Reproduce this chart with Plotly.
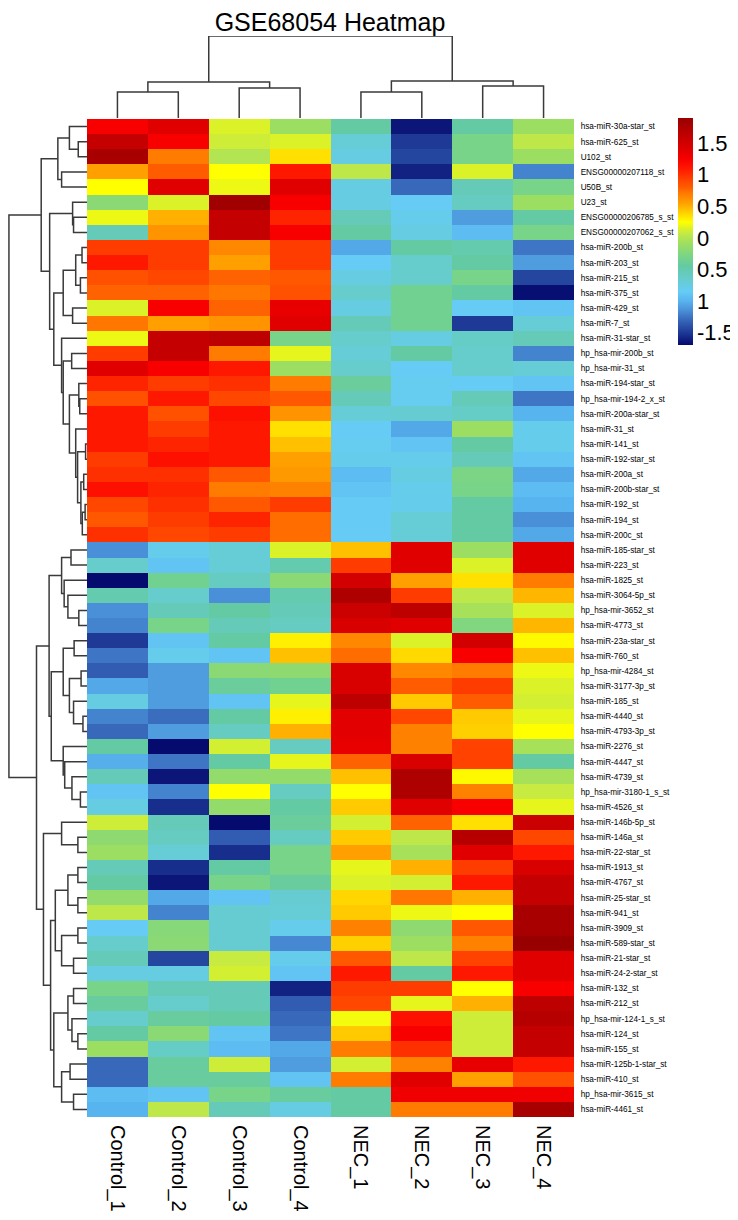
import plotly.graph_objects as go

# the page body adds an 8 px margin, so the figure is a little smaller and
# every pixel position below is given in screen pixels and shifted by OFF
OFF = 8
W, H = 738 - OFF, 1220 - OFF

samples = ["Control_1", "Control_2", "Control_3", "Control_4",
           "NEC_1", "NEC_2", "NEC_3", "NEC_4"]

mirnas = [
    "hsa-miR-30a-star_st", "hsa-miR-625_st", "U102_st", "ENSG00000207118_st",
    "U50B_st", "U23_st", "ENSG00000206785_s_st", "ENSG00000207062_s_st",
    "hsa-miR-200b_st", "hsa-miR-203_st", "hsa-miR-215_st", "hsa-miR-375_st",
    "hsa-miR-429_st", "hsa-miR-7_st", "hsa-miR-31-star_st", "hp_hsa-mir-200b_st",
    "hp_hsa-mir-31_st", "hsa-miR-194-star_st", "hp_hsa-mir-194-2_x_st",
    "hsa-miR-200a-star_st", "hsa-miR-31_st", "hsa-miR-141_st",
    "hsa-miR-192-star_st", "hsa-miR-200a_st", "hsa-miR-200b-star_st",
    "hsa-miR-192_st", "hsa-miR-194_st", "hsa-miR-200c_st",
    "hsa-miR-185-star_st", "hsa-miR-223_st", "hsa-miR-1825_st",
    "hsa-miR-3064-5p_st", "hp_hsa-mir-3652_st", "hsa-miR-4773_st",
    "hsa-miR-23a-star_st", "hsa-miR-760_st", "hp_hsa-mir-4284_st",
    "hsa-miR-3177-3p_st", "hsa-miR-185_st", "hsa-miR-4440_st",
    "hsa-miR-4793-3p_st", "hsa-miR-2276_st", "hsa-miR-4447_st",
    "hsa-miR-4739_st", "hp_hsa-mir-3180-1_s_st", "hsa-miR-4526_st",
    "hsa-miR-146b-5p_st", "hsa-miR-146a_st", "hsa-miR-22-star_st",
    "hsa-miR-1913_st", "hsa-miR-4767_st", "hsa-miR-25-star_st",
    "hsa-miR-941_st", "hsa-miR-3909_st", "hsa-miR-589-star_st",
    "hsa-miR-21-star_st", "hsa-miR-24-2-star_st", "hsa-miR-132_st",
    "hsa-miR-212_st", "hp_hsa-mir-124-1_s_st", "hsa-miR-124_st",
    "hsa-miR-155_st", "hsa-miR-125b-1-star_st", "hsa-miR-410_st",
    "hp_hsa-mir-3615_st", "hsa-miR-4461_st",
]

# row-scaled expression, one list per sample
control_1 = [1.25, 1.6, 1.8, 0.55, 0.25, -0.2, 0.2, -0.55, 0.95, 1.1, 0.85, 0.78,
             0.15, 0.72, 0.2, 0.95, 1.4, 1.05, 0.85, 1.1, 1.1, 1.1, 0.95, 1.0,
             1.15, 0.9, 0.82, 1.0, -1.15, -0.65, -1.7, -0.5, -1.15, -1.2, -1.5,
             -1.25, -1.35, -1.05, -0.75, -1.2, -1.3, -0.45, -1.02, -0.55, -0.9,
             -0.75, 0.1, -0.18, -0.1, -0.55, -0.45, -0.15, 0.05, -0.85, -0.65,
             -0.55, -0.75, -0.3, -0.42, -0.65, -0.45, -0.1, -1.3, -1.3, -0.95, -1.0]
control_2 = [1.4, 1.25, 0.7, 0.8, 1.4, 0.15, 0.5, 0.6, 0.95, 0.95, 0.9, 0.78,
             1.25, 0.55, 1.6, 1.6, 1.25, 0.95, 1.1, 0.85, 0.95, 1.05, 1.15, 1.0,
             1.05, 1.0, 0.95, 0.9, -0.8, -0.9, -0.35, -0.65, -0.55, -0.3, -0.9,
             -0.8, -1.1, -1.1, -1.1, -1.28, -1.1, -1.7, -1.25, -1.65, -1.2, -1.55,
             -0.55, -0.6, -0.7, -1.55, -1.65, -1.05, -1.2, -0.22, -0.2, -1.45,
             -0.75, -0.55, -0.65, -0.42, -0.2, -0.62, -0.42, -0.42, -0.9, 0.05]
control_3 = [0.15, 0.1, 0.0, 0.25, 0.2, 1.85, 1.6, 1.6, 0.65, 0.55, 0.78, 0.72,
             0.78, 0.6, 1.65, 0.7, 1.1, 1.0, 0.9, 1.15, 1.1, 1.1, 1.1, 0.82,
             0.7, 0.82, 1.05, 0.95, -0.7, -0.7, -0.6, -1.15, -0.45, -0.55, -0.45,
             -0.9, -0.2, -0.4, -0.9, -0.45, -0.6, 0.12, -0.45, -0.15, 0.25, -0.15,
             -1.7, -1.35, -1.55, -0.45, -0.3, -0.9, -0.68, -0.68, -0.68, 0.08,
             0.12, -0.55, -0.55, -0.45, -0.9, -0.95, 0.1, -0.42, -0.3, -0.55]
control_4 = [-0.1, 0.15, 0.35, 1.1, 1.4, 1.25, 1.05, 1.25, 0.95, 0.95, 0.82, 0.85,
             1.35, 1.4, -0.3, 0.18, -0.1, 0.7, 0.82, 0.6, 0.35, 0.45, 0.55, 0.58,
             0.68, 0.95, 0.75, 0.75, 0.15, -0.5, -0.2, -0.5, -0.55, -0.6, 0.3,
             0.45, -0.18, -0.35, 0.18, 0.3, 0.5, -0.6, 0.18, -0.15, -0.6, -0.45,
             -0.4, -0.6, -0.3, -0.3, -0.42, -0.68, -0.7, -0.8, -1.18, -0.8, -0.9,
             -1.6, -1.35, -1.3, -1.25, -1.05, -1.1, -0.9, -0.42, -0.75]
nec_1 = [-0.45, -0.7, -0.75, 0.05, -0.75, -0.75, -0.55, -0.45, -1.05, -0.85,
         -0.75, -0.65, -0.75, -0.55, -0.65, -0.7, -0.65, -0.4, -0.55, -0.7,
         -0.85, -0.82, -0.8, -0.95, -0.9, -0.85, -0.85, -0.85, 0.45, 0.95, 1.5,
         1.75, 1.55, 1.45, 0.65, 0.75, 1.45, 1.45, 1.65, 1.38, 1.38, 1.35, 0.78,
         0.45, 0.25, 0.42, 0.12, 0.42, 0.55, 0.18, 0.15, 0.38, 0.42, 0.68, 0.4,
         0.82, 1.1, 0.95, 0.9, 0.22, 0.42, 0.7, 0.12, 0.7, -0.45, -0.45]
nec_2 = [-1.65, -1.5, -1.45, -1.6, -1.3, -0.85, -0.8, -0.75, -0.45, -0.65, -0.65,
         -0.35, -0.35, -0.35, -0.75, -0.45, -0.85, -0.82, -0.82, -0.68, -1.05,
         -0.9, -0.8, -0.75, -0.8, -0.8, -0.7, -0.7, 1.4, 1.4, 0.55, 0.95, 1.65,
         1.4, 0.15, 0.37, 0.65, 0.8, 0.42, 0.9, 0.68, 0.68, 1.45, 1.75, 1.75,
         1.4, 0.78, 0.05, -0.05, 0.5, 0.12, 0.72, 0.2, -0.18, -0.1, 0.05, -0.45,
         0.95, 0.18, 1.15, 1.25, 1.0, 0.68, 1.4, 1.3, 0.7]
nec_3 = [-0.45, -0.3, -0.3, 0.15, -0.55, -0.6, -1.1, -0.95, -0.5, -0.45, -0.3,
         -0.45, -0.85, -1.5, -0.62, -0.65, -0.65, -0.85, -0.55, -0.62, -0.1,
         -0.45, -0.55, -0.28, -0.3, -0.45, -0.45, -0.45, -0.1, 0.15, 0.35, 0.05,
         -0.05, -0.25, 1.5, 1.25, 0.7, 0.95, 0.8, 0.42, 0.4, 0.92, 0.92, 0.27,
         0.68, 1.25, 0.35, 1.7, 1.4, 0.95, 1.1, 0.5, 0.25, 0.82, 0.68, 0.92,
         1.1, 0.25, 0.5, 0.1, 0.1, 0.1, 1.35, 0.55, 1.3, 0.7]
nec_4 = [-0.1, 0.05, -0.1, -1.2, -0.3, -0.1, -0.45, -0.3, -1.25, -1.1, -1.45,
         -1.68, -0.9, -0.7, -0.55, -1.2, -0.7, -0.9, -1.25, -1.0, -0.8, -0.8,
         -0.9, -1.05, -0.95, -1.0, -1.15, -1.05, 1.4, 1.4, 0.7, 0.48, 0.15, 0.48,
         0.27, 0.45, 0.2, 0.15, 0.12, 0.18, 0.25, -0.05, -0.45, -0.05, 0.08,
         0.18, 1.55, 0.9, 1.1, 1.45, 1.6, 1.6, 1.8, 1.8, 1.9, 1.4, 1.4, 1.25,
         1.65, 1.7, 1.6, 1.6, 1.1, 0.85, 1.3, 1.8]

# dendrograms: (left, right, merge height); ints are leaf positions
col_tree = (((0, 1, 26), (2, 3, 30), 36), ((4, 5, 26), (6, 7, 32), 37), 82)

row_top = (
    (((0, (1, 2, 9.3), 18.7), (3, 4, 27), 31)),
    ((5, (6, 7, 14.3), 15.3),
     ((((8, 9, 5.3), (10, 11, 7), 12), (12, 13, 15.3), 25.3),
      (14, ((15, 16, 16.3),
            ((17, (18, 19, 7.7), 8.7),
             (20, ((21, 22, 1.5), ((23, 24, 3.5), ((25, 26, 2), 27, 5), 6.5), 10), 12),
             18.7),
            25.3), 27),
      35.3),
     39.7),
    48.7,
)
row_bottom = (
    (((28, 29, 17), (30, (31, (32, 33, 8.7), 20.3), 24.3), 27),
     (((34, 35, 13.7), ((36, 37, 6.3), (38, (39, 40, 4.3), 14.3), 18.7), 25.3),
      (41, (42, (43, (44, 45, 7), 16), 23.7), 25.3),
      38),
     40.3),
    ((46, (47, 48, 9.7), 27),
     ((((49, 50, 9.7), (51, 52, 9.7), 20.3), ((53, 54, 9.7), (55, 56, 14.3), 27), 33.7),
      (((57, 58, 14.3), (59, (60, 61, 9.7), 16), 20.3), ((62, 63, 18), (64, 65, 14.3), 27), 35.3),
      38.7),
     46.3),
    53.7,
)
row_tree = (row_top, row_bottom, 83)

cbar_vals = [-1.5, -1, -0.5, 0, 0.5, 1, 1.5]
cbar_text = ["-1.5", "1", "0.5", "0", "0.5", "1", "1.5"]

zmin, zmax = -1.7, 1.9
stops = [(-1.7, "#050a6e"), (-1.5, "#1e3a96"), (-1.3, "#3868ba"), (-1.15, "#4a90d8"),
         (-1.0, "#58b4ee"), (-0.85, "#66ccf6"), (-0.65, "#66cccc"), (-0.45, "#64caa4"),
         (-0.3, "#78d488"), (-0.1, "#9cde62"), (0.05, "#bee84a"), (0.15, "#dcf228"),
         (0.25, "#ffff00"), (0.4, "#ffd000"), (0.55, "#ffa000"), (0.7, "#ff7c00"),
         (0.8, "#ff5c00"), (0.95, "#ff3c00"), (1.1, "#ff1800"), (1.25, "#f80000"),
         (1.4, "#e00000"), (1.6, "#c40000"), (1.8, "#a80000"), (1.9, "#980000")]
colorscale = [[(v - zmin) / (zmax - zmin), c] for v, c in stops]


def dendro(node):
    if isinstance(node, int):
        return node, 0, [], []
    left, right, h = node
    p1, h1, pa, ha = dendro(left)
    p2, h2, pb, hb = dendro(right)
    pos = pa + pb + [p1, p1, p2, p2, None]
    hts = ha + hb + [h1, h, h, h2, None]
    return (p1 + p2) / 2, h, pos, hts


columns = [control_1, control_2, control_3, control_4, nec_1, nec_2, nec_3, nec_4]
z = [[col[i] for col in columns] for i in range(len(mirnas))]

def px_x(a, b):
    return [max(0, (a - OFF) / W), (b - OFF) / W]

def px_y(top, bottom):
    return [1 - (bottom - OFF) / H, 1 - (top - OFF) / H]

hm_x = px_x(87, 574)
hm_y = px_y(119, 1117)

fig = go.Figure()
fig.add_trace(go.Heatmap(
    z=z, x=list(range(len(samples))), y=list(range(len(mirnas))),
    colorscale=colorscale, zmin=zmin, zmax=zmax,
    colorbar=dict(
        x=(678 - OFF) / W, xanchor="left", y=1 - (118 - OFF) / H, yanchor="top",
        xpad=0, ypad=0,
        thickness=15, thicknessmode="pixels", len=227, lenmode="pixels",
        outlinewidth=0, tickvals=cbar_vals, ticktext=cbar_text,
        ticks="outside", ticklen=0, tickcolor="rgba(0,0,0,0)",
        tickfont=dict(size=22, color="black"),
    ),
    xaxis="x", yaxis="y",
))

_, _, rpos, rh = dendro(row_tree)
fig.add_trace(go.Scatter(x=rh, y=rpos, mode="lines", xaxis="x2", yaxis="y2",
                         line=dict(color="#3a3a3a", width=1.5), cliponaxis=False,
                         hoverinfo="skip", showlegend=False))
_, _, cpos, ch = dendro(col_tree)
fig.add_trace(go.Scatter(x=cpos, y=ch, mode="lines", xaxis="x3", yaxis="y3",
                         line=dict(color="#3a3a3a", width=1.5), cliponaxis=False,
                         hoverinfo="skip", showlegend=False))

fig.update_layout(
    width=W, height=H,
    margin=dict(l=0, r=0, t=0, b=0, autoexpand=False),
    paper_bgcolor="white", plot_bgcolor="white",
    font=dict(family="Arial, Liberation Sans, sans-serif", color="black"),
    title=dict(text="GSE68054 Heatmap", x=(330 - OFF) / W, xanchor="center",
               y=1 - 5 / H, yanchor="top", pad=dict(t=0),
               font=dict(size=25, color="black")),
    xaxis=dict(domain=hm_x, anchor="y", range=[-0.5, 7.5],
               tickvals=list(range(len(samples))), ticktext=samples,
               tickangle=90, tickfont=dict(size=20),
               ticks="outside", ticklen=3, tickcolor="rgba(0,0,0,0)",
               showgrid=False, zeroline=False, showline=False),
    yaxis=dict(domain=hm_y, anchor="x", range=[len(mirnas) - 0.5, -0.5],
               side="right", tickvals=list(range(len(mirnas))), ticktext=mirnas,
               tickfont=dict(size=8.2),
               ticks="outside", ticklen=4, tickcolor="rgba(0,0,0,0)",
               showgrid=False, zeroline=False, showline=False),
    xaxis2=dict(domain=px_x(8, 87), anchor="y2", range=[84, 0], visible=False),
    yaxis2=dict(domain=hm_y, anchor="x2", range=[len(mirnas) - 0.5, -0.5], visible=False),
    xaxis3=dict(domain=hm_x, anchor="y3", range=[-0.5, 7.5], visible=False),
    yaxis3=dict(domain=px_y(36, 118), anchor="x3", range=[0, 82], visible=False),
)

fig.write_html("out.html")
